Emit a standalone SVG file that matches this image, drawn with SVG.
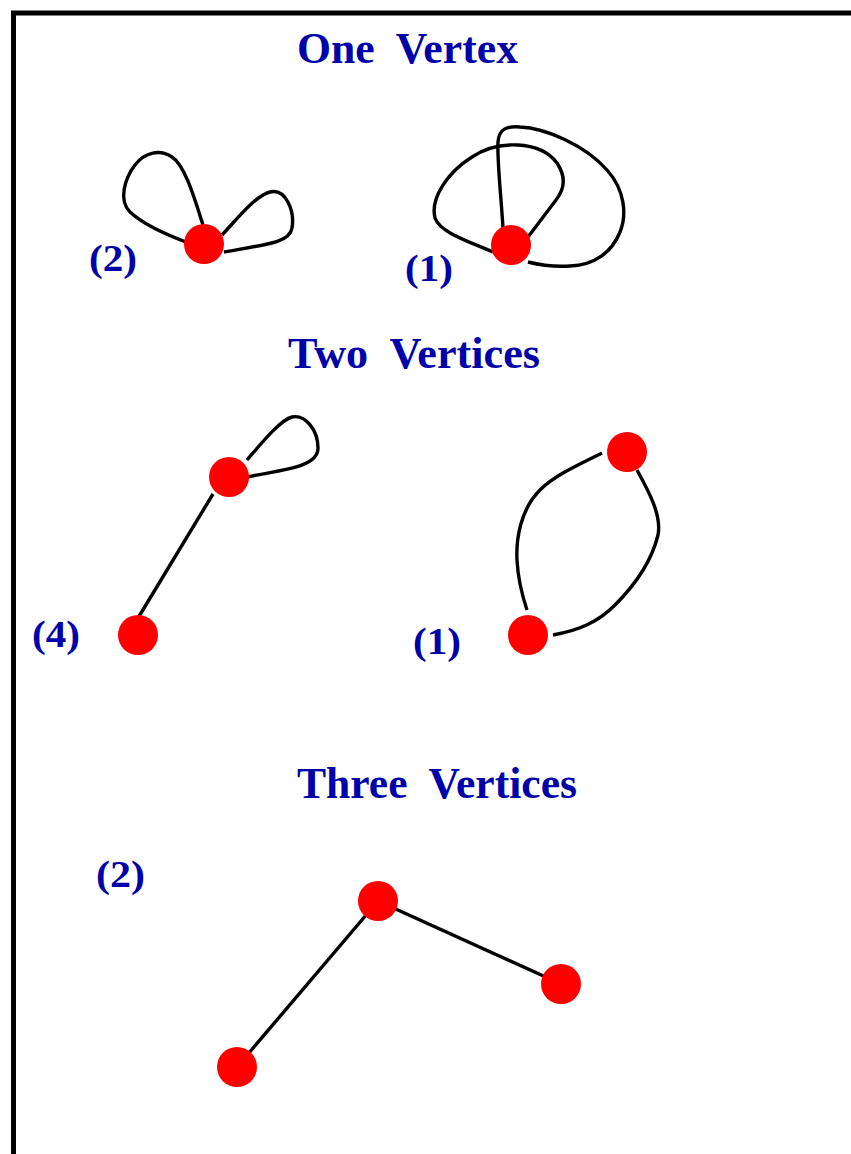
<svg xmlns="http://www.w3.org/2000/svg" width="851" height="1154" viewBox="0 0 851 1154">
<style>
.title{font-family:"Liberation Serif","Times New Roman",serif;font-weight:bold;font-size:45px;fill:#0000aa;white-space:pre}
.lbl{font-family:"Liberation Serif","Times New Roman",serif;font-weight:bold;font-size:38px;fill:#0000aa}
.edge{fill:none;stroke:#000;stroke-width:3.4;stroke-linecap:butt}
.node{fill:#ff0000}
</style>
<rect width="851" height="1154" fill="#fff"/>
<g id="frame" fill="none" stroke="#000" stroke-width="5">
<path d="M13.5,1154 L13.5,13 L851,13"/>
</g>
<g id="texts">
<text class="title" x="297" y="63" textLength="221" lengthAdjust="spacingAndGlyphs">One  Vertex</text>
<text class="title" x="288" y="368" textLength="252" lengthAdjust="spacingAndGlyphs">Two  Vertices</text>
<text class="title" x="297" y="798" textLength="280" lengthAdjust="spacingAndGlyphs">Three  Vertices</text>
<text class="lbl" x="89" y="271" textLength="48" lengthAdjust="spacingAndGlyphs">(2)</text>
<text class="lbl" x="405" y="281" textLength="48" lengthAdjust="spacingAndGlyphs">(1)</text>
<text class="lbl" x="32" y="647" textLength="48" lengthAdjust="spacingAndGlyphs">(4)</text>
<text class="lbl" x="413" y="654" textLength="48" lengthAdjust="spacingAndGlyphs">(1)</text>
<text class="lbl" x="96" y="887" textLength="49" lengthAdjust="spacingAndGlyphs">(2)</text>
</g>
<g id="connectors">
<path class="edge" d="M203,225 C195,200 185,165 172,157 C160,149 145,152 135,165 C125,178 118,200 130,212 C145,226 170,236 186,242"/>
<path class="edge" d="M222,235 C238,218 255,196 270,192 C285,188 295,210 292,228 C290,242 270,244 224,252"/>
<path class="edge" d="M493,252 C465,240 440,232 435,218 C430,198 448,172 472,157 C497,140 540,140 557,163 C567,178 564,190 556,200 L528,237"/>
<path class="edge" d="M503,228 C501,195 497,160 498,142 C499,128 508,126 520,127 C545,128 585,145 607,170 C625,190 627,215 620,232 C612,252 595,265 570,266 C555,267 540,265 528,262"/>
<path class="edge" d="M138,618 L213,494"/>
<path class="edge" d="M247,460 C260,445 280,420 292,417 C305,414 318,430 318,448 C318,468 280,470 247,477"/>
<path class="edge" d="M602,453 C580,464 555,475 540,490 C520,510 516,540 517,560 C518,580 522,595 527,610"/>
<path class="edge" d="M637,470 C648,490 662,515 658,535 C652,560 635,585 615,605 C598,622 580,630 553,635"/>
<path class="edge" d="M237,1067 L378,901"/>
<path class="edge" d="M378,901 L561,984"/>
</g>
<g id="v1"><circle class="node" cx="204" cy="244" r="20"/></g>
<g id="v2"><circle class="node" cx="511" cy="245" r="20"/></g>
<g id="v3"><circle class="node" cx="229" cy="477" r="20"/></g>
<g id="v4"><circle class="node" cx="138" cy="635" r="20"/></g>
<g id="v5"><circle class="node" cx="627" cy="452" r="20"/></g>
<g id="v6"><circle class="node" cx="528" cy="635" r="20"/></g>
<g id="v7"><circle class="node" cx="378" cy="901" r="20"/></g>
<g id="v8"><circle class="node" cx="561" cy="984" r="20"/></g>
<g id="v9"><circle class="node" cx="237" cy="1067" r="20"/></g>
</svg>
